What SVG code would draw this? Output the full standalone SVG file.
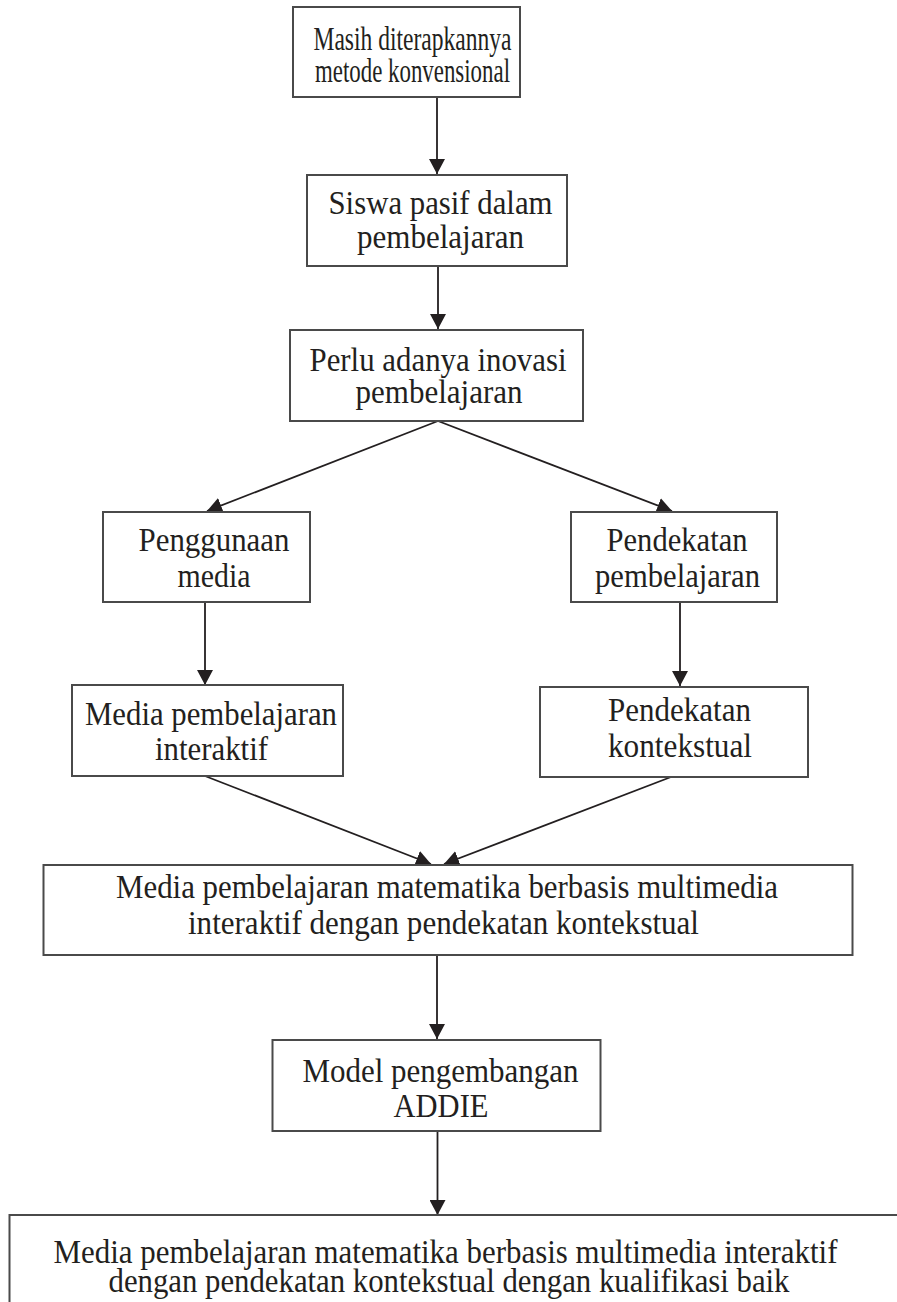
<svg xmlns="http://www.w3.org/2000/svg" width="897" height="1302" viewBox="0 0 897 1302">
<style>
.box{fill:#fff;stroke:#4a4a4a;stroke-width:2}
.t{font-family:"Liberation Serif","Times New Roman",serif;font-size:34px;fill:#231f20;text-anchor:middle}
.c{fill:none;stroke:#231f20;stroke-width:1.8}
</style>
<defs>
<marker id="ah" markerUnits="userSpaceOnUse" markerWidth="15" markerHeight="16" refX="15" refY="8" orient="auto" viewBox="0 0 15 16">
<path d="M0,0 L15,8 L0,16 Z" fill="#231f20"/>
</marker>
</defs>
<rect width="897" height="1302" fill="#fff"/>
<g id="connectors">
<line class="c" x1="437" y1="97" x2="437" y2="174" marker-end="url(#ah)"/>
<line class="c" x1="438" y1="266" x2="438" y2="329" marker-end="url(#ah)"/>
<line class="c" x1="438" y1="421" x2="207" y2="511" marker-end="url(#ah)"/>
<line class="c" x1="438" y1="421" x2="672" y2="511" marker-end="url(#ah)"/>
<line class="c" x1="205" y1="602" x2="205" y2="685" marker-end="url(#ah)"/>
<line class="c" x1="680" y1="602" x2="680" y2="686" marker-end="url(#ah)"/>
<line class="c" x1="205" y1="776" x2="431" y2="864" marker-end="url(#ah)"/>
<line class="c" x1="671" y1="777" x2="444" y2="864" marker-end="url(#ah)"/>
<line class="c" x1="437" y1="955" x2="437" y2="1039" marker-end="url(#ah)"/>
<line class="c" x1="437.5" y1="1131" x2="437.5" y2="1215" marker-end="url(#ah)"/>
</g>
<g id="n1">
<rect class="box" x="293" y="7" width="227" height="90"/>
<text class="t" x="412.5" y="50" textLength="198" lengthAdjust="spacingAndGlyphs">Masih diterapkannya</text>
<text class="t" x="412.5" y="82" textLength="195" lengthAdjust="spacingAndGlyphs">metode konvensional</text>
</g>
<g id="n2">
<rect class="box" x="307" y="175" width="260" height="91"/>
<text class="t" x="440.5" y="214" textLength="224" lengthAdjust="spacingAndGlyphs">Siswa pasif dalam</text>
<text class="t" x="440.5" y="248" textLength="167" lengthAdjust="spacingAndGlyphs">pembelajaran</text>
</g>
<g id="n3">
<rect class="box" x="290" y="330" width="293" height="91"/>
<text class="t" x="438" y="371" textLength="257" lengthAdjust="spacingAndGlyphs">Perlu adanya inovasi</text>
<text class="t" x="439" y="403" textLength="167" lengthAdjust="spacingAndGlyphs">pembelajaran</text>
</g>
<g id="n4">
<rect class="box" x="103" y="512" width="207" height="90"/>
<text class="t" x="214" y="551" textLength="151" lengthAdjust="spacingAndGlyphs">Penggunaan</text>
<text class="t" x="214" y="587" textLength="73" lengthAdjust="spacingAndGlyphs">media</text>
</g>
<g id="n5">
<rect class="box" x="571" y="512" width="206" height="90"/>
<text class="t" x="677" y="551" textLength="141" lengthAdjust="spacingAndGlyphs">Pendekatan</text>
<text class="t" x="677.5" y="587" textLength="165" lengthAdjust="spacingAndGlyphs">pembelajaran</text>
</g>
<g id="n6">
<rect class="box" x="72" y="685" width="271" height="91"/>
<text class="t" x="211" y="725" textLength="252" lengthAdjust="spacingAndGlyphs">Media pembelajaran</text>
<text class="t" x="211.5" y="760" textLength="113" lengthAdjust="spacingAndGlyphs">interaktif</text>
</g>
<g id="n7">
<rect class="box" x="540" y="687" width="268" height="90"/>
<text class="t" x="679.5" y="721" textLength="143" lengthAdjust="spacingAndGlyphs">Pendekatan</text>
<text class="t" x="680" y="757" textLength="144" lengthAdjust="spacingAndGlyphs">kontekstual</text>
</g>
<g id="n8">
<rect class="box" x="43.5" y="865" width="809" height="90"/>
<text class="t" x="447" y="898" textLength="662" lengthAdjust="spacingAndGlyphs">Media pembelajaran matematika berbasis multimedia</text>
<text class="t" x="443.5" y="934" textLength="511" lengthAdjust="spacingAndGlyphs">interaktif dengan pendekatan kontekstual</text>
</g>
<g id="n9">
<rect class="box" x="272.5" y="1040" width="328" height="91"/>
<text class="t" x="440.5" y="1082" textLength="276" lengthAdjust="spacingAndGlyphs">Model pengembangan</text>
<text class="t" x="441" y="1117" textLength="95" lengthAdjust="spacingAndGlyphs">ADDIE</text>
</g>
<g id="n10">
<rect class="box" x="9.5" y="1215" width="900" height="100"/>
<text class="t" x="445.5" y="1263" textLength="784" lengthAdjust="spacingAndGlyphs">Media pembelajaran matematika berbasis multimedia interaktif</text>
<text class="t" x="449" y="1292" textLength="681" lengthAdjust="spacingAndGlyphs">dengan pendekatan kontekstual dengan kualifikasi baik</text>
</g>
</svg>
